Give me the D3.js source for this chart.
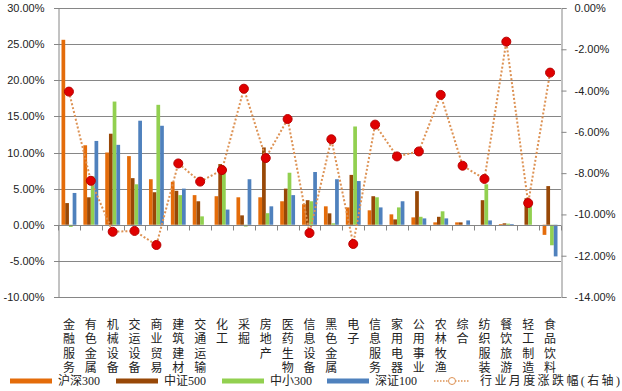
<!DOCTYPE html>
<html>
<head>
<meta charset="utf-8">
<script src="https://cdn.jsdelivr.net/npm/d3@7"></script>
<style>
	body { margin: 0; background: #fff; }
	svg { display: block; }
</style>
</head>
<body>
<div id="chart"></div>
<script>
// Industry categories
var categories = ["金融服务", "有色金属", "机械设备", "交运设备", "商业贸易", "建筑建材", "交通运输",
	"化工", "采掘", "房地产", "医药生物", "信息设备", "黑色金属", "电子", "信息服务", "家用电器",
	"公用事业", "农林牧渔", "综合", "纺织服装", "餐饮旅游", "轻工制造", "食品饮料"];

// Bar series (left axis, %)
var hs300 = [25.6, 11.0, 10.0, 9.5, 6.3, 5.95, 4.1, 3.95, 3.8, 3.8, 3.25, 2.85, 2.55, 2.4, 2.0, 1.44, 1.02, 0.33, 0.33, 0, 0.1, 0, -1.4];
var zz500 = [3.0, 3.8, 12.6, 6.45, 4.5, 4.7, 3.25, 8.4, 1.3, 10.7, 5.0, 3.4, 1.58, 6.9, 3.95, 0.74, 4.65, 1.1, 0.33, 3.4, 0.2, 3.67, 5.35];
var zx300 = [-0.3, 6.7, 17.05, 5.6, 16.6, 4.1, 1.16, 7.5, -0.25, 1.6, 7.2, 3.25, 0.2, 13.6, 3.8, 2.4, 1.1, 1.86, 0, 5.6, 0.15, 3.0, -2.84];
var sz100 = [4.4, 11.6, 11.06, 14.4, 13.7, 5.0, 0, 2.1, 6.3, 2.55, 4.1, 7.3, 6.3, 6.05, 2.4, 3.25, 0.88, 0.88, 0.6, 0.6, 0.1, 0, -4.38];

// Line series (right axis, %)
var monthly = [-4.05, -8.37, -10.84, -10.8, -11.48, -7.53, -8.41, -7.85, -3.91, -7.27, -5.38, -10.9, -6.36,
	-11.43, -5.65, -7.19, -6.95, -4.21, -7.64, -8.28, -1.63, -9.45, -3.13];

var seriesNames = ["沪深300", "中证500", "中小300", "深证100"];
var lineName = "行业月度涨跌幅(右轴)";
var leftTicks = [30, 25, 20, 15, 10, 5, 0, -5, -10];
var rightTicks = [0, -2, -4, -6, -8, -10, -12, -14];

(function () {

	var colors = ["#E46C0A", "#984807", "#92D050", "#4F81BD"];
	var lineColor = "#DD9254";
	var grid = "#868686";

	var W = 622, H = 391;
	var pLeft = 58, pRight = 561, pTop = 8, pBottom = 297;

	var svg = d3.select("#chart").append("svg")
		.attr("width", W)
		.attr("height", H);

	var y = d3.scaleLinear().domain([-10, 30]).range([pBottom, pTop]);
	var y2 = d3.scaleLinear().domain([-14, 0]).range([pBottom, pTop]);
	var x = d3.scaleBand().domain(categories).range([pLeft, pRight]).padding(0);
	var xi = d3.scaleBand().domain(d3.range(4)).range([3.5, x.bandwidth() - 3.5]).padding(0);

	// Gridlines
	svg.append("g")
		.selectAll("line")
		.data(leftTicks)
		.enter()
		.append("line")
		.attr("x1", pLeft - 4)
		.attr("x2", pRight)
		.attr("y1", function(d) { return Math.round(y(d)) + 0.5; })
		.attr("y2", function(d) { return Math.round(y(d)) + 0.5; })
		.attr("stroke", grid)
		.attr("stroke-width", 1);

	// Left axis
	var yAxis = d3.axisLeft(y).tickValues(leftTicks).tickSize(0).tickPadding(14)
		.tickFormat(function(d) { return d.toFixed(2) + "%"; });
	var gy = svg.append("g").attr("transform", "translate(" + (pLeft + 0.5) + ",0)").call(yAxis);
	gy.select(".domain").attr("stroke", grid);
	gy.selectAll("text").attr("font-family", "Liberation Sans, Arial, sans-serif").attr("font-size", 11).attr("fill", "#222");

	// Right axis
	var y2Axis = d3.axisRight(y2).tickValues(rightTicks).tickSize(5).tickPadding(8)
		.tickFormat(function(d) { return d.toFixed(2) + "%"; });
	var gy2 = svg.append("g").attr("transform", "translate(" + (pRight + 0.5) + ",0)").call(y2Axis);
	gy2.select(".domain").attr("stroke", grid);
	gy2.selectAll("line").attr("stroke", grid);
	gy2.selectAll("text").attr("font-family", "Liberation Sans, Arial, sans-serif").attr("font-size", 11).attr("fill", "#222");

	// Bars
	var series = [hs300, zz500, zx300, sz100];
	series.forEach(function(vals, s) {
		svg.append("g")
			.selectAll("rect")
			.data(vals)
			.enter()
			.append("rect")
			.attr("x", function(d, i) { return x(categories[i]) + xi(s); })
			.attr("width", xi.bandwidth())
			.attr("y", function(d) { return y(Math.max(0, d)); })
			.attr("height", function(d) { return Math.abs(y(d) - y(0)); })
			.attr("fill", colors[s]);
	});

	// Category axis on the zero line
	var zeroY = Math.round(y(0)) + 0.5;
	svg.append("line")
		.attr("x1", pLeft).attr("x2", pRight)
		.attr("y1", zeroY).attr("y2", zeroY)
		.attr("stroke", grid);
	svg.append("g")
		.selectAll("line")
		.data(d3.range(categories.length + 1))
		.enter()
		.append("line")
		.attr("x1", function(i) { return Math.round(pLeft + i * x.step()) + 0.5; })
		.attr("x2", function(i) { return Math.round(pLeft + i * x.step()) + 0.5; })
		.attr("y1", zeroY)
		.attr("y2", zeroY + 5)
		.attr("stroke", grid);

	// Vertical category labels (stacked characters)
	svg.append("g")
		.selectAll("text")
		.data(categories)
		.enter()
		.append("text")
		.attr("x", function(d) { return x(d) + x.bandwidth() / 2; })
		.attr("y", 318)
		.style("writing-mode", "vertical-rl")
		.style("text-orientation", "upright")
		.style("letter-spacing", "2.6px")
		.attr("font-family", "Noto Sans CJK SC, sans-serif")
		.attr("font-size", 12)
		.attr("fill", "#222")
		.text(function(d) { return d; });

	// Line on the right axis
	var line = d3.line()
		.x(function(d, i) { return x(categories[i]) + x.bandwidth() / 2; })
		.y(function(d) { return y2(d); });
	svg.append("path")
		.datum(monthly)
		.attr("d", line)
		.attr("fill", "none")
		.attr("stroke", lineColor)
		.attr("stroke-width", 2)
		.attr("stroke-dasharray", "2,2");
	svg.append("g")
		.selectAll("circle")
		.data(monthly)
		.enter()
		.append("circle")
		.attr("cx", function(d, i) { return x(categories[i]) + x.bandwidth() / 2; })
		.attr("cy", function(d) { return y2(d); })
		.attr("r", 4.5)
		.attr("fill", "#E00000")
		.attr("stroke", "#B80000")
		.attr("stroke-width", 1);

	// Legend
	var legendY = 381;
	var legendX = [10, 116, 222, 327];
	var legend = svg.append("g");
	seriesNames.forEach(function(name, s) {
		legend.append("rect")
			.attr("x", legendX[s])
			.attr("y", legendY - 2.5)
			.attr("width", 42)
			.attr("height", 5)
			.attr("fill", colors[s]);
		legend.append("text")
			.attr("x", legendX[s] + 48)
			.attr("y", legendY)
			.attr("dy", "0.35em")
			.attr("font-family", "Liberation Serif, Noto Sans CJK SC, serif")
			.attr("font-size", 12)
			.attr("fill", "#222")
			.text(name);
	});
	legend.append("line")
		.attr("x1", 434).attr("x2", 470)
		.attr("y1", legendY).attr("y2", legendY)
		.attr("stroke", lineColor)
		.attr("stroke-width", 1.5)
		.attr("stroke-dasharray", "1.5,1.5");
	legend.append("circle")
		.attr("cx", 452).attr("cy", legendY)
		.attr("r", 3.5)
		.attr("fill", "#fff")
		.attr("stroke", lineColor)
		.attr("stroke-width", 1);
	legend.append("text")
		.attr("x", 480)
		.attr("y", legendY)
		.attr("dy", "0.35em")
		.style("letter-spacing", "2.4px")
		.attr("font-family", "Liberation Serif, Noto Sans CJK SC, serif")
		.attr("font-size", 12)
		.attr("fill", "#222")
		.text(lineName);

})();
</script>
</body>
</html>
